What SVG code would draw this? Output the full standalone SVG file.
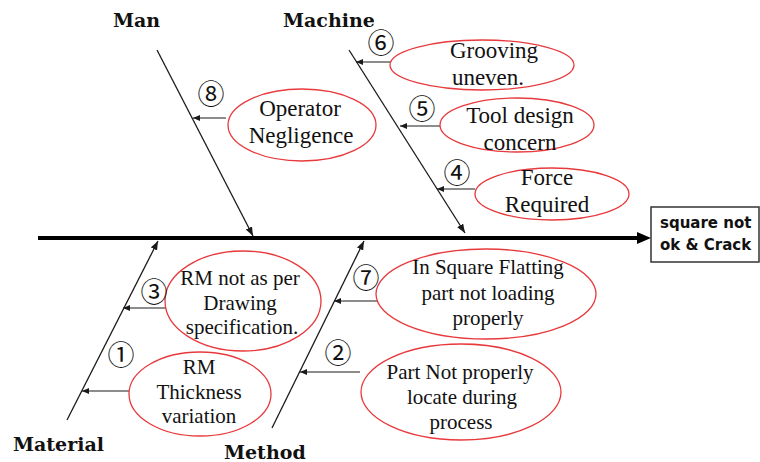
<svg xmlns="http://www.w3.org/2000/svg" width="760" height="462" viewBox="0 0 760 462">
  <style>
    .bone { stroke: #1a1a1a; stroke-width: 1.3; fill: none; }
    .cause-arrow { stroke: #1a1a1a; stroke-width: 1; fill: none; }
    .oval { fill: #ffffff; stroke: #e8393c; stroke-width: 1.3; }
    .cause { font-family: "Liberation Serif", "Times New Roman", serif; fill: #111; text-anchor: middle; }
    .big { font-size: 23px; }
    .small { font-size: 21px; }
    .cat { font-family: "DejaVu Serif", serif; font-weight: bold; font-size: 19px; fill: #111; }
    .num { font-family: "Noto Sans CJK JP", "DejaVu Sans", sans-serif; font-size: 27px; fill: #111; text-anchor: middle; }
    .effect { font-family: "DejaVu Sans", sans-serif; font-weight: bold; font-size: 15px; fill: #111; }
  </style>
  <defs>
    <marker id="tipSmall" markerUnits="userSpaceOnUse" markerWidth="8" markerHeight="7" refX="7" refY="3" orient="auto">
      <path d="M0,0 L7,3 L0,6 z" fill="#1a1a1a"/>
    </marker>
    <marker id="tipBone" markerUnits="userSpaceOnUse" markerWidth="10" markerHeight="8" refX="9" refY="3.5" orient="auto">
      <path d="M0,0 L9,3.5 L0,7 z" fill="#1a1a1a"/>
    </marker>
  </defs>

  <rect width="760" height="462" fill="#ffffff"/>

  <!-- spine, bones and cause arrows -->
  <g id="connectors">
    <line x1="38" y1="238" x2="640" y2="238" stroke="#000" stroke-width="4"/>
    <polygon points="637,232 651,238 637,244" fill="#000"/>

    <line class="bone" x1="157" y1="50" x2="253" y2="236" marker-end="url(#tipBone)"/>
    <line class="bone" x1="349" y1="50" x2="465" y2="233" marker-end="url(#tipBone)"/>
    <line class="bone" x1="67" y1="420" x2="158" y2="241" marker-end="url(#tipBone)"/>
    <line class="bone" x1="272" y1="428" x2="364" y2="241" marker-end="url(#tipBone)"/>

    <line class="cause-arrow" x1="391" y1="62" x2="356" y2="62" marker-end="url(#tipSmall)"/>
    <line class="cause-arrow" x1="440" y1="126" x2="400" y2="126" marker-end="url(#tipSmall)"/>
    <line class="cause-arrow" x1="475" y1="189" x2="437" y2="189" marker-end="url(#tipSmall)"/>
    <line class="cause-arrow" x1="226" y1="118" x2="193" y2="118" marker-end="url(#tipSmall)"/>
    <line class="cause-arrow" x1="172" y1="308" x2="123" y2="308" marker-end="url(#tipSmall)"/>
    <line class="cause-arrow" x1="130" y1="391" x2="82" y2="391" marker-end="url(#tipSmall)"/>
    <line class="cause-arrow" x1="384" y1="301" x2="334" y2="301" marker-end="url(#tipSmall)"/>
    <line class="cause-arrow" x1="360" y1="372" x2="300" y2="372" marker-end="url(#tipSmall)"/>
  </g>

  <!-- category labels -->
  <g id="cat-man"><text class="cat" x="113" y="27">Man</text></g>
  <g id="cat-machine"><text class="cat" x="283" y="27">Machine</text></g>
  <g id="cat-material"><text class="cat" x="13" y="451">Material</text></g>
  <g id="cat-method"><text class="cat" x="224" y="459">Method</text></g>

  <!-- effect -->
  <g id="effect">
    <rect x="651" y="207" width="108" height="55" fill="#fff" stroke="#333" stroke-width="1.5"/>
    <text class="effect" x="660" y="228">square not</text>
    <text class="effect" x="660" y="250">ok &amp; Crack</text>
  </g>

  <!-- causes -->
  <g id="cause-6">
    <ellipse class="oval" cx="482" cy="65" rx="92" ry="25"/>
    <text class="cause big" x="494" y="58">Grooving</text>
    <text class="cause big" x="488" y="85">uneven.</text>
    <text class="num" x="381" y="53">⑥</text>
  </g>
  <g id="cause-5">
    <ellipse class="oval" cx="517" cy="125" rx="77" ry="27"/>
    <text class="cause big" x="520" y="123">Tool design</text>
    <text class="cause big" x="520" y="150">concern</text>
    <text class="num" x="422" y="119">⑤</text>
  </g>
  <g id="cause-4">
    <ellipse class="oval" cx="552" cy="194" rx="77" ry="26"/>
    <text class="cause big" x="547" y="185">Force</text>
    <text class="cause big" x="547" y="212">Required</text>
    <text class="num" x="457" y="183">④</text>
  </g>
  <g id="cause-8">
    <ellipse class="oval" cx="302" cy="125" rx="74" ry="36"/>
    <text class="cause big" x="300" y="116">Operator</text>
    <text class="cause big" x="301" y="143">Negligence</text>
    <text class="num" x="211" y="104">⑧</text>
  </g>
  <g id="cause-3">
    <ellipse class="oval" cx="243" cy="301" rx="78" ry="50"/>
    <text class="cause small" x="240" y="285">RM not as per</text>
    <text class="cause small" x="240" y="310">Drawing</text>
    <text class="cause small" x="242" y="334">specification.</text>
    <text class="num" x="154" y="302">③</text>
  </g>
  <g id="cause-1">
    <ellipse class="oval" cx="200" cy="394" rx="71" ry="42"/>
    <text class="cause small" x="199" y="374">RM</text>
    <text class="cause small" x="199" y="399">Thickness</text>
    <text class="cause small" x="199" y="423">variation</text>
    <text class="num" x="121" y="365">①</text>
  </g>
  <g id="cause-7">
    <ellipse class="oval" cx="486" cy="294" rx="110" ry="45"/>
    <text class="cause small" x="488" y="274">In Square Flatting</text>
    <text class="cause small" x="488" y="300">part not loading</text>
    <text class="cause small" x="488" y="325">properly</text>
    <text class="num" x="366" y="288">⑦</text>
  </g>
  <g id="cause-2">
    <ellipse class="oval" cx="461" cy="392" rx="100" ry="48"/>
    <text class="cause small" x="460" y="379">Part Not properly</text>
    <text class="cause small" x="462" y="404">locate during</text>
    <text class="cause small" x="461" y="429">process</text>
    <text class="num" x="338" y="363">②</text>
  </g>
</svg>
